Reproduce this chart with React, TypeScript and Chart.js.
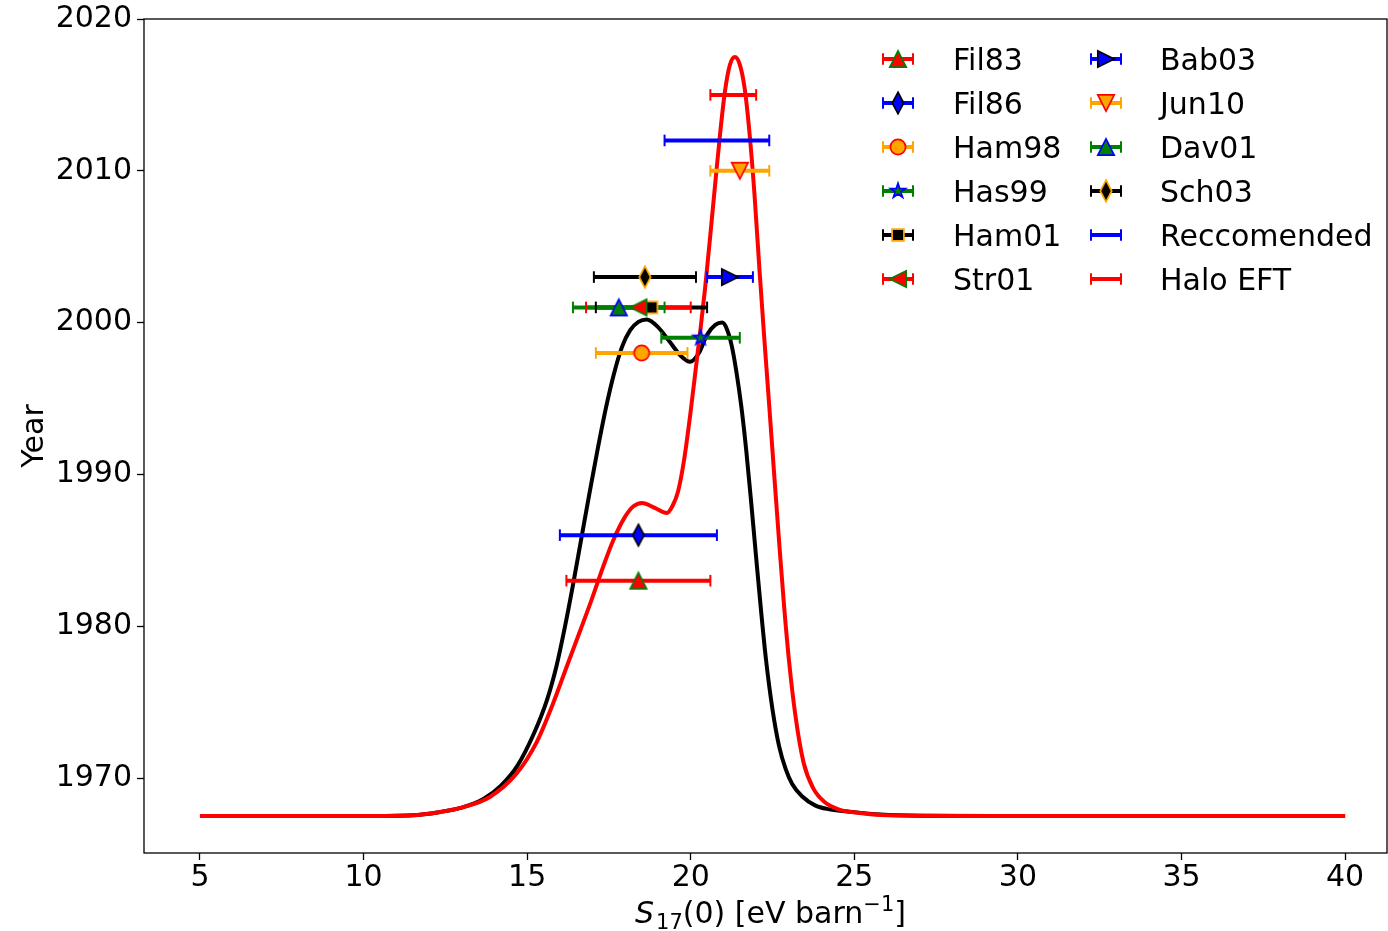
import React, { useEffect, useRef } from 'react';
import { Chart, registerables } from 'chart.js';

Chart.register(...registerables);

const FONT = '"DejaVu Sans", "Liberation Sans", sans-serif';

// Black curve (x, year-scale value)
const blackX = [5, 10, 11.5, 12.3, 13.0, 13.65, 14.2, 14.7, 15.2, 15.6, 15.9, 16.15, 16.4, 16.65, 16.9, 17.15, 17.4, 17.65, 17.9, 18.15, 18.4, 18.66, 19.0, 19.37, 19.7, 19.98, 20.25, 20.5, 20.75, 20.96, 21.1, 21.25, 21.4, 21.55, 21.7, 21.85, 22.0, 22.15, 22.3, 22.5, 22.7, 22.9, 23.1, 23.4, 23.8, 24.2, 24.8, 25.8, 27, 30, 35, 40];
const blackY = [1967.5, 1967.5, 1967.55, 1967.75, 1968.05, 1968.6, 1969.5, 1970.8, 1972.9, 1975.1, 1977.4, 1979.9, 1982.7, 1985.7, 1988.7, 1991.6, 1994.3, 1996.6, 1998.4, 1999.5, 2000.05, 2000.2, 1999.7, 1998.7, 1997.8, 1997.42, 1998.0, 1999.2, 1999.85, 2000.0, 1999.6, 1998.5, 1996.7, 1994.4, 1991.5, 1988.1, 1984.5, 1981.0, 1977.8, 1974.5, 1972.1, 1970.6, 1969.6, 1968.8, 1968.2, 1967.95, 1967.8, 1967.6, 1967.52, 1967.5, 1967.5, 1967.5];

// Red (Halo EFT) curve
const redX = [5, 10, 11.5, 12.3, 13.0, 13.86, 14.69, 15.3, 15.79, 16.22, 16.62, 16.98, 17.32, 17.62, 17.99, 18.25, 18.51, 18.9, 19.27, 19.45, 19.61, 19.8, 20.0, 20.15, 20.3, 20.44, 20.6, 20.75, 20.9, 21.05, 21.2, 21.35, 21.5, 21.65, 21.8, 21.95, 22.1, 22.25, 22.4, 22.55, 22.7, 22.85, 23.0, 23.2, 23.45, 23.75, 24.1, 24.56, 25.17, 26, 30, 35, 40];
const redY = [1967.5, 1967.5, 1967.55, 1967.75, 1968.05, 1968.75, 1970.33, 1972.4, 1974.9, 1977.4, 1979.7, 1981.8, 1983.9, 1985.6, 1987.2, 1987.9, 1988.12, 1987.8, 1987.46, 1987.95, 1988.85, 1991.0, 1994.2, 1996.9, 1999.6, 2002.3, 2005.8, 2009.2, 2012.5, 2015.3, 2017.0, 2017.5, 2017.0, 2015.4, 2012.4, 2008.4, 2003.5, 1998.9, 1994.5, 1990.0, 1985.6, 1981.4, 1977.8, 1974.1, 1971.0, 1969.3, 1968.4, 1967.9, 1967.7, 1967.55, 1967.5, 1967.5, 1967.5];

// Measurements
const names = ['Fil83', 'Fil86', 'Ham98', 'Has99', 'Ham01', 'Str01', 'Bab03', 'Jun10', 'Dav01', 'Sch03', 'Reccomended', 'Halo EFT'];
const centers = [18.4, 18.4, 18.5, 20.3, 18.8, 18.4, 21.2, 21.5, 17.8, 18.6, 20.8, 21.3];
const years = [1983, 1986, 1998, 1999, 2001, 2001, 2003, 2010, 2001, 2003, 2012, 2015];
const errors = [2.2, 2.4, 1.4, 1.2, 1.7, 1.6, 0.7, 0.9, 1.4, 1.56, 1.6, 0.7];
const barColors = ['#ff0000', '#0000ff', '#ffa500', '#008000', '#000000', '#ff0000', '#0000ff', '#ffa500', '#008000', '#000000', '#0000ff', '#ff0000'];
const markerShapes = ['^', 'd', 'o', '*', 's', '<', '>', 'v', '^', 'd', '', ''];
const markerFills = ['#ff0000', '#0000ff', '#ffa500', '#008000', '#000000', '#ff0000', '#0000ff', '#ffa500', '#008000', '#000000', '', ''];
const markerEdges = ['#008000', '#000000', '#ff0000', '#0000ff', '#ffa500', '#008000', '#000000', '#ff0000', '#0000ff', '#ffa500', '', ''];

const xTicks = [5, 10, 15, 20, 25, 30, 35, 40];
const yTicks = [1970, 1980, 1990, 2000, 2010, 2020];

function makeMarker(shape: string, fill: string, edge: string): HTMLCanvasElement | null {
  if (!shape) return null;
  const c = document.createElement('canvas');
  c.width = 30;
  c.height = 30;
  const g = c.getContext('2d')!;
  const cx = 15, cy = 15;
  const h = 8.2;
  g.beginPath();
  switch (shape) {
    case '^':
      g.moveTo(cx, cy - h); g.lineTo(cx + h, cy + h); g.lineTo(cx - h, cy + h); g.closePath(); break;
    case 'v':
      g.moveTo(cx, cy + h); g.lineTo(cx + h, cy - h); g.lineTo(cx - h, cy - h); g.closePath(); break;
    case '<':
      g.moveTo(cx - h, cy); g.lineTo(cx + h, cy - h); g.lineTo(cx + h, cy + h); g.closePath(); break;
    case '>':
      g.moveTo(cx + h, cy); g.lineTo(cx - h, cy - h); g.lineTo(cx - h, cy + h); g.closePath(); break;
    case 'o':
      g.arc(cx, cy, 7.6, 0, Math.PI * 2); g.closePath(); break;
    case 's':
      g.rect(cx - 5.9, cy - 5.9, 11.8, 11.8); break;
    case 'd': {
      const hh = 10.8, hw = 5.7;
      g.moveTo(cx, cy - hh); g.lineTo(cx + hw, cy); g.lineTo(cx, cy + hh); g.lineTo(cx - hw, cy); g.closePath(); break;
    }
    case '*': {
      const R = 7.8, r = R * 0.381966;
      for (let k = 0; k < 10; k++) {
        const rad = k % 2 === 0 ? R : r;
        const a = -Math.PI / 2 + (k * Math.PI) / 5;
        const px = cx + rad * Math.cos(a), py = cy + rad * Math.sin(a);
        if (k === 0) g.moveTo(px, py); else g.lineTo(px, py);
      }
      g.closePath();
      break;
    }
  }
  g.fillStyle = fill;
  g.fill();
  g.lineWidth = 1.7;
  g.lineJoin = 'miter';
  g.strokeStyle = edge;
  g.stroke();
  return c;
}

export default function App() {
  const ref = useRef<HTMLCanvasElement | null>(null);

  useEffect(() => {
    document.body.style.margin = '0';
    const canvas = ref.current;
    if (!canvas) return;

    const markers = names.map((_, i) => makeMarker(markerShapes[i], markerFills[i], markerEdges[i]));

    const datasets: any[] = [];
    datasets.push({
      label: 'curve-black',
      data: blackX.map((x, i) => ({ x, y: blackY[i] })),
      borderColor: '#000000',
      borderWidth: 4,
      pointRadius: 0,
      cubicInterpolationMode: 'monotone',
      fill: false,
      order: 300,
    });
    datasets.push({
      label: 'curve-red',
      data: redX.map((x, i) => ({ x, y: redY[i] })),
      borderColor: '#ff0000',
      borderWidth: 4,
      pointRadius: 0,
      cubicInterpolationMode: 'monotone',
      fill: false,
      order: 299,
    });
    names.forEach((n, i) => {
      const pts = [
        { x: centers[i] - errors[i], y: years[i] },
        { x: centers[i] + errors[i], y: years[i] },
      ];
      datasets.push({
        label: n + '-bar',
        data: pts,
        borderColor: barColors[i],
        borderWidth: 4,
        borderCapStyle: 'butt',
        pointRadius: 0,
        tension: 0,
        order: 200 - i,
      });
      datasets.push({
        label: n + '-caps',
        data: pts,
        showLine: false,
        pointStyle: 'line',
        pointRotation: 90,
        pointRadius: 5.8,
        pointBorderWidth: 2,
        pointBorderColor: barColors[i],
        pointBackgroundColor: barColors[i],
        order: 150 - i,
      });
      if (markers[i]) {
        datasets.push({
          label: n,
          data: [{ x: centers[i], y: years[i] }],
          showLine: false,
          pointStyle: markers[i],
          pointRadius: 8,
          order: 100 - i,
        });
      }
    });

    const framePlugin = {
      id: 'frame',
      afterDraw(chart: any) {
        const { ctx, chartArea } = chart;
        ctx.save();
        ctx.strokeStyle = '#000';
        ctx.lineWidth = 1.3;
        ctx.strokeRect(chartArea.left, chartArea.top, chartArea.right - chartArea.left, chartArea.bottom - chartArea.top);
        ctx.restore();
      },
    };

    const xTitlePlugin = {
      id: 'xTitle',
      afterDraw(chart: any) {
        const { ctx, chartArea } = chart;
        const pieces = [
          { t: 'S', f: `italic 30px ${FONT}`, dy: 0 },
          { t: '17', f: `21px ${FONT}`, dy: 6 },
          { t: '(0) [eV barn', f: `30px ${FONT}`, dy: 0 },
          { t: '\u22121', f: `21px ${FONT}`, dy: -12 },
          { t: ']', f: `30px ${FONT}`, dy: 0 },
        ];
        ctx.save();
        ctx.fillStyle = '#000';
        ctx.textBaseline = 'alphabetic';
        ctx.textAlign = 'left';
        let total = 0;
        const widths = pieces.map((p) => {
          ctx.font = p.f;
          const w = ctx.measureText(p.t).width + (p.t === 'S' ? 2 : 0);
          total += w;
          return w;
        });
        let x = (chartArea.left + chartArea.right) / 2 - total / 2 + 5;
        const base = chartArea.bottom + 70;
        pieces.forEach((p, i) => {
          ctx.font = p.f;
          ctx.fillText(p.t, x, base + p.dy);
          x += widths[i];
        });
        ctx.restore();
      },
    };

    const legendPlugin = {
      id: 'customLegend',
      afterDraw(chart: any) {
        const { ctx, chartArea } = chart;
        ctx.save();
        const rowY0 = chartArea.top + 40;
        const rowDY = 44;
        const cols = [
          { x0: chartArea.right - 504, x1: chartArea.right - 474, tx: chartArea.right - 434 },
          { x0: chartArea.right - 296, x1: chartArea.right - 266, tx: chartArea.right - 227 },
        ];
        names.forEach((n, i) => {
          const col = cols[Math.floor(i / 6)];
          const y = rowY0 + (i % 6) * rowDY;
          ctx.strokeStyle = barColors[i];
          ctx.lineCap = 'butt';
          ctx.lineWidth = 4;
          ctx.beginPath();
          ctx.moveTo(col.x0, y);
          ctx.lineTo(col.x1, y);
          ctx.stroke();
          ctx.lineWidth = 2;
          ctx.beginPath();
          ctx.moveTo(col.x0, y - 5.8);
          ctx.lineTo(col.x0, y + 5.8);
          ctx.moveTo(col.x1, y - 5.8);
          ctx.lineTo(col.x1, y + 5.8);
          ctx.stroke();
          const m = markers[i];
          if (m) {
            const mx = (col.x0 + col.x1) / 2;
            ctx.drawImage(m, mx - m.width / 2, y - m.height / 2);
          }
          ctx.fillStyle = '#000';
          ctx.font = `30px ${FONT}`;
          ctx.textBaseline = 'alphabetic';
          ctx.textAlign = 'left';
          ctx.fillText(n, col.tx, y + 11);
        });
        ctx.restore();
      },
    };

    const chart = new Chart(canvas, {
      type: 'line',
      data: { datasets },
      plugins: [framePlugin, xTitlePlugin, legendPlugin],
      options: {
        responsive: false,
        animation: false,
        layout: { autoPadding: false, padding: { top: 19, right: 1, left: 0, bottom: 0 } },
        plugins: {
          legend: { display: false },
          tooltip: { enabled: false },
        },
        scales: {
          x: {
            type: 'linear',
            min: 3.29,
            max: 41.28,
            afterBuildTicks: (s: any) => {
              s.ticks = xTicks.map((v) => ({ value: v }));
            },
            afterFit: (s: any) => {
              s.height = 78;
              s.paddingLeft = 0;
              s.paddingRight = 0;
            },
            border: { display: false },
            grid: {
              display: true,
              drawOnChartArea: false,
              drawTicks: true,
              tickLength: 7,
              tickColor: '#000',
              tickWidth: 1.3,
            },
            ticks: {
              color: '#000',
              font: { family: FONT, size: 30 },
              padding: 0,
              maxRotation: 0,
              autoSkip: false,
              callback: (v: any) => String(v),
            },
          },
          y: {
            type: 'linear',
            min: 1965.06,
            max: 2020,
            afterBuildTicks: (s: any) => {
              s.ticks = yTicks.map((v) => ({ value: v }));
            },
            afterFit: (s: any) => {
              s.width = 144;
              s.paddingTop = 0;
              s.paddingBottom = 0;
            },
            border: { display: false },
            grid: {
              display: true,
              drawOnChartArea: false,
              drawTicks: true,
              tickLength: 7,
              tickColor: '#000',
              tickWidth: 1.3,
            },
            ticks: {
              color: '#000',
              font: { family: FONT, size: 30 },
              padding: 5,
              autoSkip: false,
              callback: (v: any) => String(v),
            },
            title: {
              display: true,
              text: 'Year',
              color: '#000',
              font: { family: FONT, size: 30 },
              padding: { top: 17, bottom: 0 },
            },
          },
        },
      },
    });

    return () => {
      chart.destroy();
    };
  }, []);

  return (
    <div style={{ width: 1388, height: 931 }}>
      <canvas ref={ref} width={1388} height={931} style={{ display: 'block' }} />
    </div>
  );
}
